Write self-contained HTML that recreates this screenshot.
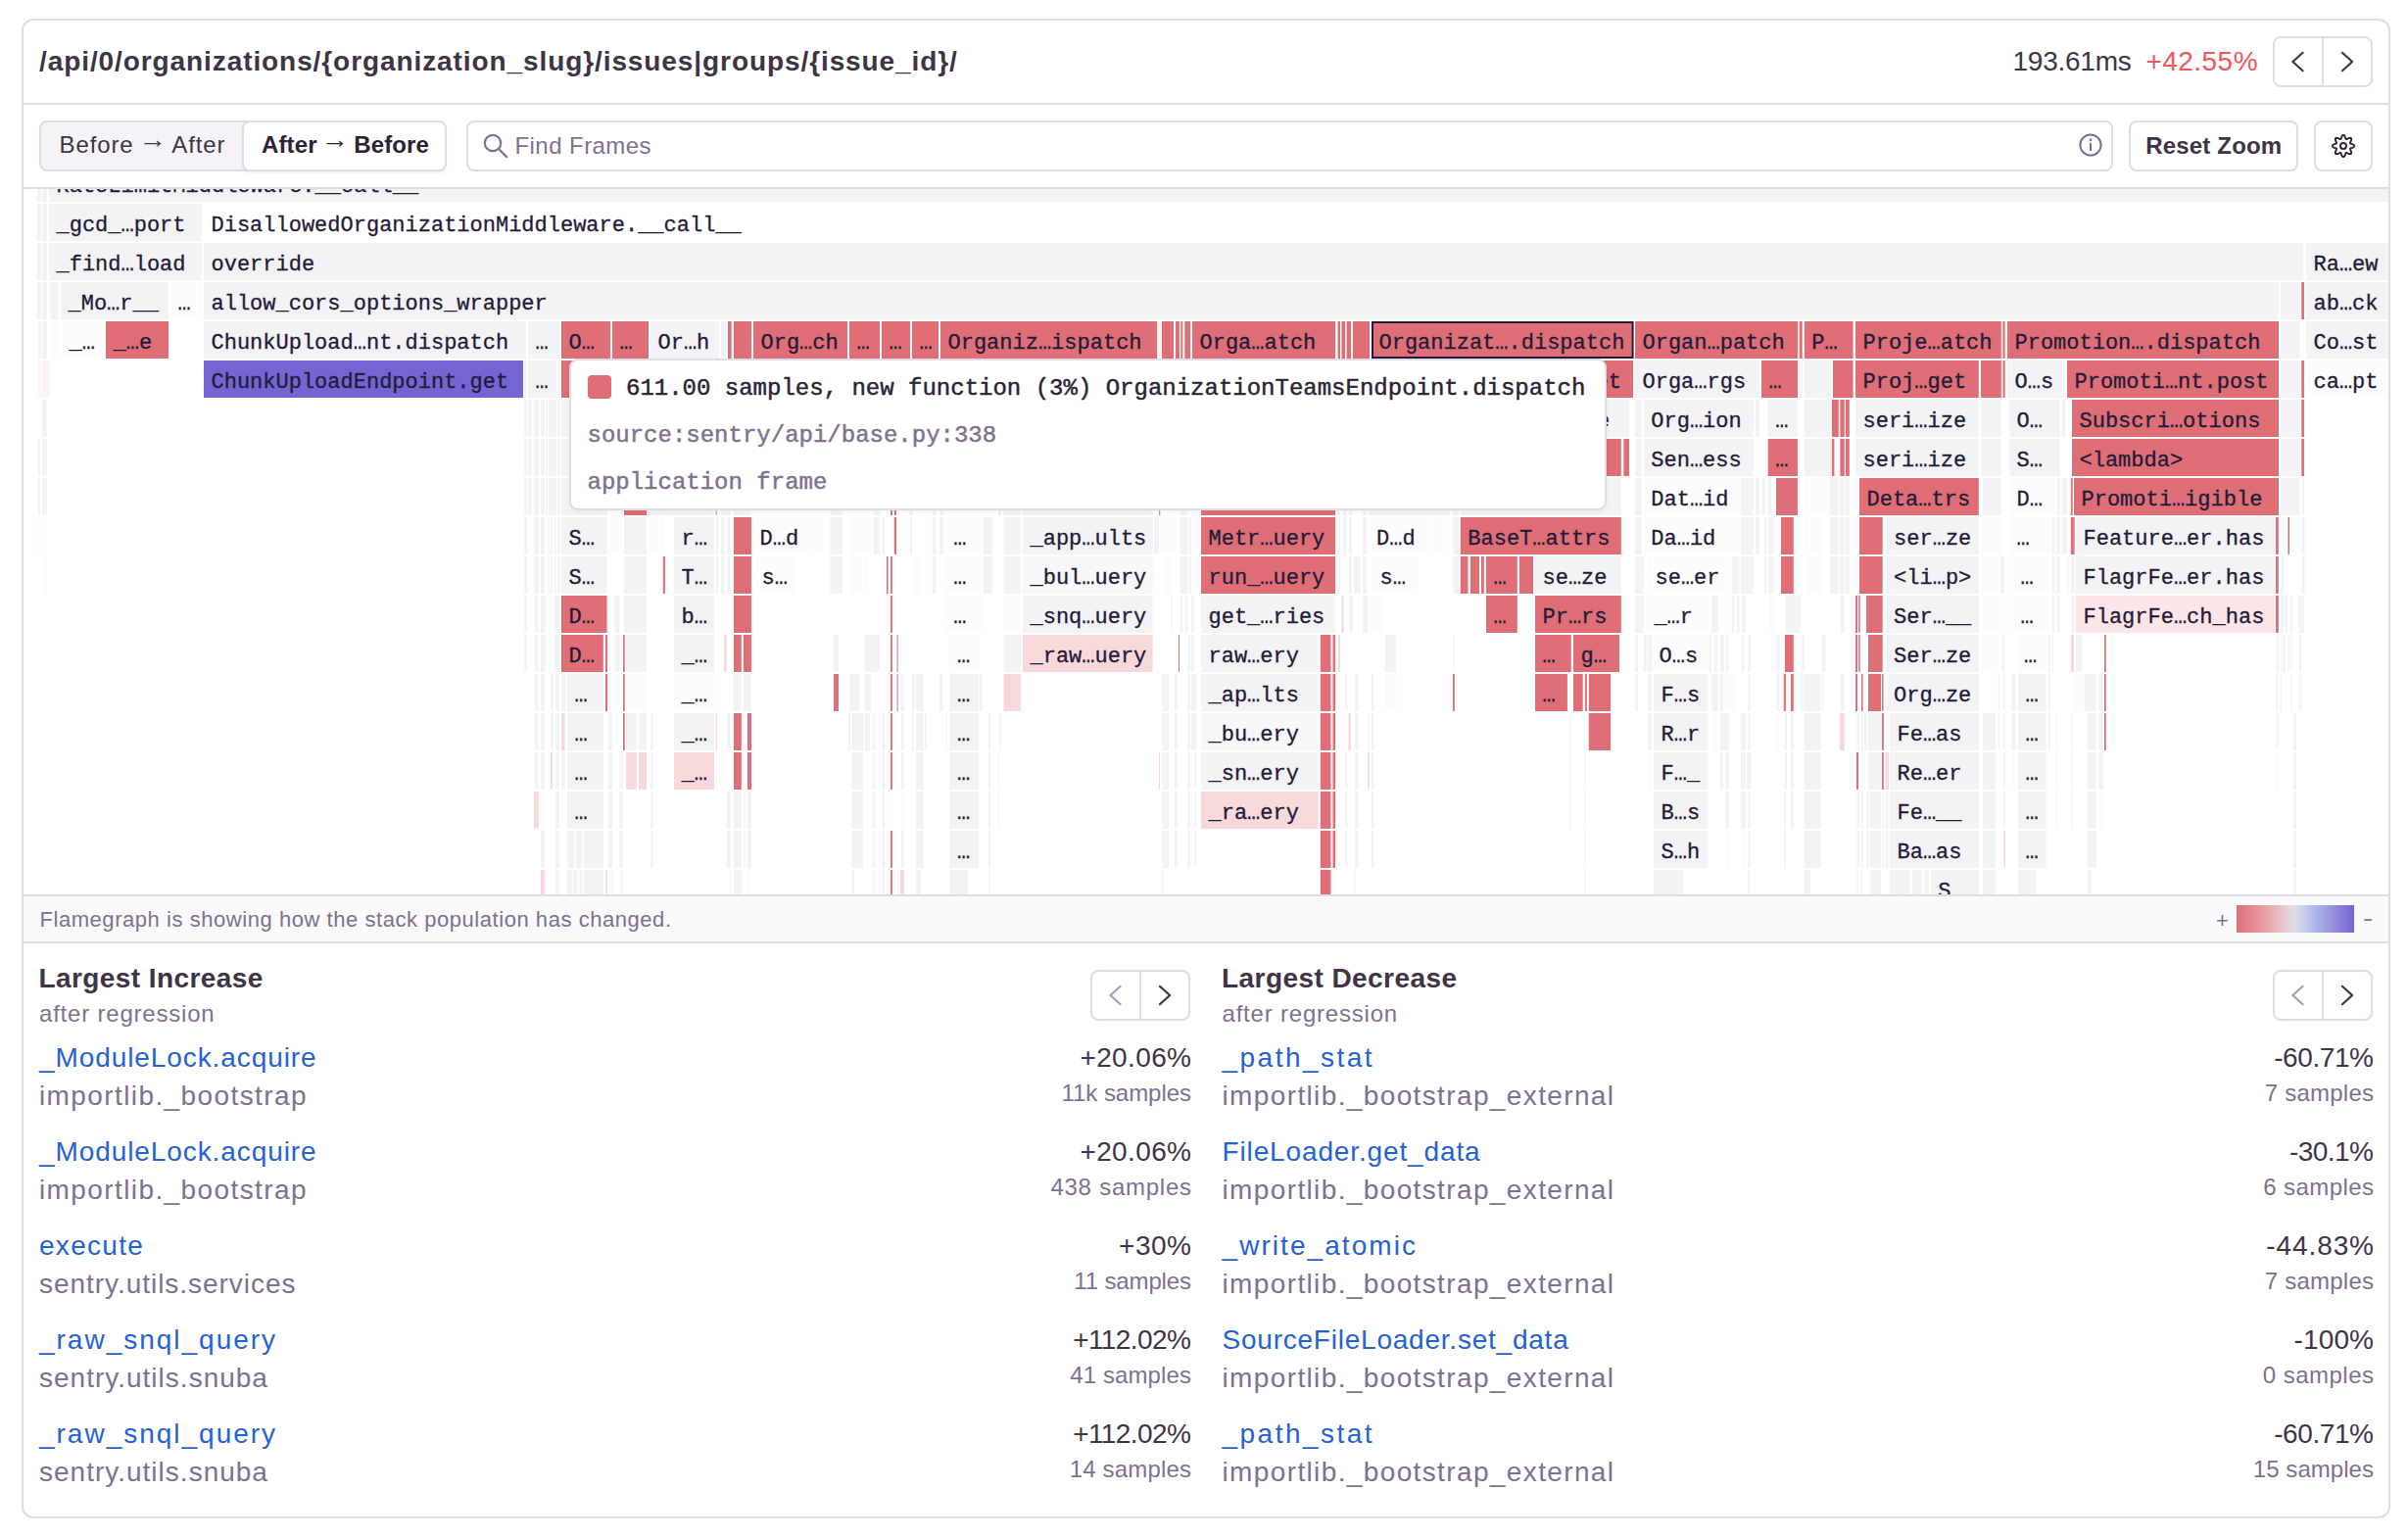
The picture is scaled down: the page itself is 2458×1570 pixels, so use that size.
<!DOCTYPE html>
<html><head><meta charset="utf-8"><title>Function regression flamegraph</title>
<style>
html,body{margin:0;padding:0;background:#fff}
body{width:2458px;height:1570px;position:relative;overflow:hidden;font-family:"Liberation Sans",sans-serif;color:#3e3446}
.card{position:absolute;left:22px;top:19px;width:2414px;height:1527px;border:2px solid #e0dce5;border-radius:12px;background:#fff}
.hl{position:absolute;left:24px;width:2414px;height:2px;background:#e0dce5}
.btn{position:absolute;box-sizing:border-box;border:2px solid #e0dce5;border-radius:8px;background:#fff}
svg{position:absolute}
svg text{font-family:"Liberation Mono",monospace;white-space:pre}
</style></head><body>
<div class="card"></div>

<div style="position:absolute;left:40px;top:49.30px;font:bold 28px/28px 'Liberation Sans', sans-serif;color:#3e3446;white-space:pre;letter-spacing:0.912px;">/api/0/organizations/{organization_slug}/issues|groups/{issue_id}/</div>
<div style="position:absolute;left:2054.5px;top:49.30px;font:28px/28px 'Liberation Sans', sans-serif;color:#3e3446;white-space:pre;letter-spacing:-0.250px;">193.61ms</div>
<div style="position:absolute;left:2190.5px;top:49.30px;font:28px/28px 'Liberation Sans', sans-serif;color:#f55459;white-space:pre;letter-spacing:0.451px;">+42.55%</div>
<div class="btn" style="left:2320px;top:37px;width:102px;height:52px"></div>
<div style="position:absolute;left:2370px;top:39px;width:2px;height:48px;background:#e0dce5"></div>
<svg style="left:2320px;top:37px" width="102" height="52" viewBox="2320 37 102 52"><polyline points="2350.6,53.8 2340.4,63.0 2350.6,72.2" fill="none" stroke="#3e3446" stroke-width="2.2" stroke-linecap="round" stroke-linejoin="round"/><polyline points="2390.9,53.8 2401.1,63.0 2390.9,72.2" fill="none" stroke="#3e3446" stroke-width="2.2" stroke-linecap="round" stroke-linejoin="round"/></svg>
<div class="hl" style="top:105px"></div>
<div class="btn" style="left:40px;top:123px;width:416px;height:52px;background:#f5f3f7"></div>
<div class="btn" style="left:247px;top:123px;width:209px;height:52px;background:#fff;box-shadow:0 2px 2px rgba(43,34,51,.06)"></div>
<div style="position:absolute;left:60.5px;top:135.98px;font:24px/24px 'Liberation Sans', sans-serif;color:#3e3446;white-space:pre;letter-spacing:0.897px;">Before <span style="display:inline-block;transform:translateY(-5px) scale(1.2,1.05)">→</span> After</div>
<div style="position:absolute;left:267px;top:135.98px;font:bold 24px/24px 'Liberation Sans', sans-serif;color:#2b2233;white-space:pre;letter-spacing:0.116px;">After <span style="display:inline-block;transform:translateY(-5px) scale(1.2,1.05)">→</span> Before</div>
<div class="btn" style="left:476px;top:123px;width:1681px;height:52px"></div>
<svg style="left:490px;top:133px" width="32" height="32" viewBox="0 0 32 32"><circle cx="13" cy="13" r="8.2" fill="none" stroke="#80708f" stroke-width="2.2"/><line x1="19" y1="19" x2="27" y2="27" stroke="#80708f" stroke-width="2.4" stroke-linecap="round"/></svg>
<div style="position:absolute;left:525.5px;top:136.68px;font:24px/24px 'Liberation Sans', sans-serif;color:#80708f;white-space:pre;letter-spacing:0.438px;">Find Frames</div>
<svg style="left:2120px;top:134px" width="28" height="28" viewBox="0 0 28 28"><circle cx="14" cy="14" r="10.6" fill="none" stroke="#80708f" stroke-width="2"/><circle cx="14" cy="9" r="1.4" fill="#80708f"/><rect x="13" y="12" width="2" height="8" fill="#80708f"/></svg>
<div class="btn" style="left:2173px;top:123px;width:173px;height:52px"></div>
<div style="position:absolute;left:2190.3px;top:136.68px;font:bold 24px/24px 'Liberation Sans', sans-serif;color:#3e3446;white-space:pre;letter-spacing:0.166px;">Reset Zoom</div>
<div class="btn" style="left:2362px;top:123px;width:60px;height:52px"></div>
<svg style="left:2376px;top:133px" width="32" height="32" viewBox="2376 133 32 32"><polygon points="2392.00,137.85 2392.43,137.95 2392.85,138.23 2393.22,138.66 2393.55,139.22 2393.82,139.83 2394.05,140.45 2394.25,141.02 2394.44,141.49 2394.64,141.83 2394.89,142.02 2395.20,142.06 2395.58,141.97 2396.05,141.77 2396.59,141.50 2397.19,141.23 2397.82,140.99 2398.44,140.83 2399.02,140.78 2399.51,140.88 2399.88,141.12 2400.12,141.49 2400.22,141.98 2400.17,142.56 2400.01,143.18 2399.77,143.81 2399.50,144.41 2399.23,144.95 2399.03,145.42 2398.94,145.80 2398.98,146.11 2399.17,146.36 2399.51,146.56 2399.98,146.75 2400.55,146.95 2401.17,147.18 2401.78,147.45 2402.34,147.78 2402.77,148.15 2403.05,148.57 2403.15,149.00 2403.05,149.43 2402.77,149.85 2402.34,150.22 2401.78,150.55 2401.17,150.82 2400.55,151.05 2399.98,151.25 2399.51,151.44 2399.17,151.64 2398.98,151.89 2398.94,152.20 2399.03,152.58 2399.23,153.05 2399.50,153.59 2399.77,154.19 2400.01,154.82 2400.17,155.44 2400.22,156.02 2400.12,156.51 2399.88,156.88 2399.51,157.12 2399.02,157.22 2398.44,157.17 2397.82,157.01 2397.19,156.77 2396.59,156.50 2396.05,156.23 2395.58,156.03 2395.20,155.94 2394.89,155.98 2394.64,156.17 2394.44,156.51 2394.25,156.98 2394.05,157.55 2393.82,158.17 2393.55,158.78 2393.22,159.34 2392.85,159.77 2392.43,160.05 2392.00,160.15 2391.57,160.05 2391.15,159.77 2390.78,159.34 2390.45,158.78 2390.18,158.17 2389.95,157.55 2389.75,156.98 2389.56,156.51 2389.36,156.17 2389.11,155.98 2388.80,155.94 2388.42,156.03 2387.95,156.23 2387.41,156.50 2386.81,156.77 2386.18,157.01 2385.56,157.17 2384.98,157.22 2384.49,157.12 2384.12,156.88 2383.88,156.51 2383.78,156.02 2383.83,155.44 2383.99,154.82 2384.23,154.19 2384.50,153.59 2384.77,153.05 2384.97,152.58 2385.06,152.20 2385.02,151.89 2384.83,151.64 2384.49,151.44 2384.02,151.25 2383.45,151.05 2382.83,150.82 2382.22,150.55 2381.66,150.22 2381.23,149.85 2380.95,149.43 2380.85,149.00 2380.95,148.57 2381.23,148.15 2381.66,147.78 2382.22,147.45 2382.83,147.18 2383.45,146.95 2384.02,146.75 2384.49,146.56 2384.83,146.36 2385.02,146.11 2385.06,145.80 2384.97,145.42 2384.77,144.95 2384.50,144.41 2384.23,143.81 2383.99,143.18 2383.83,142.56 2383.78,141.98 2383.88,141.49 2384.12,141.12 2384.49,140.88 2384.98,140.78 2385.56,140.83 2386.18,140.99 2386.81,141.23 2387.41,141.50 2387.95,141.77 2388.42,141.97 2388.80,142.06 2389.11,142.02 2389.36,141.83 2389.56,141.49 2389.75,141.02 2389.95,140.45 2390.18,139.83 2390.45,139.22 2390.78,138.66 2391.15,138.23 2391.57,137.95" fill="none" stroke="#2b2233" stroke-width="1.9" stroke-linejoin="round"/><circle cx="2392" cy="149" r="3" fill="none" stroke="#2b2233" stroke-width="1.9"/></svg>
<div class="hl" style="top:191px"></div>
<svg style="left:24px;top:193px" width="2414" height="720" viewBox="24 193 2414 720">
<rect x="38" y="168" width="4" height="38" fill="#f3f2f5"/><rect x="43" y="168" width="5" height="38" fill="#f3f2f5"/><rect x="50" y="168" width="2388" height="38" fill="#f3f2f5"/><rect x="38" y="208" width="4" height="38" fill="#f3f2f5"/><rect x="43" y="208" width="5" height="38" fill="#f3f2f5"/><rect x="50" y="208" width="156" height="38" fill="#f3f2f5"/><rect x="38" y="248" width="4" height="38" fill="#f3f2f5"/><rect x="43" y="248" width="5" height="38" fill="#f3f2f5"/><rect x="50" y="248" width="156" height="38" fill="#f3f2f5"/><rect x="208" y="248" width="2143.3" height="38" fill="#f3f2f5"/><rect x="2354" y="248" width="84" height="38" fill="#f3f2f5"/><rect x="38" y="288" width="4" height="38" fill="#f3f2f5"/><rect x="43" y="288" width="5" height="38" fill="#f3f2f5"/><rect x="51" y="288" width="9" height="38" fill="#f3f2f5"/><rect x="62" y="288" width="110" height="38" fill="#f3f2f5"/><rect x="174" y="288" width="32" height="38" fill="#fdfcfd"/><rect x="208" y="288" width="2118" height="38" fill="#f3f2f5"/><rect x="2328" y="288" width="19.5" height="38" fill="#f3f2f5"/><rect x="2349.3" y="288" width="2.7" height="38" fill="#df6e76"/><rect x="2354" y="288" width="84" height="38" fill="#f3f2f5"/><rect x="39" y="328" width="3" height="38" fill="#f3f2f5"/><rect x="43" y="328" width="5" height="38" fill="#f3f2f5"/><rect x="51" y="328" width="9" height="38" fill="#fdfcfd"/><rect x="63" y="328" width="43" height="38" fill="#fdfcfd"/><rect x="108" y="328" width="64" height="38" fill="#df6e76"/><rect x="208" y="328" width="329" height="38" fill="#f3f2f5"/><rect x="539" y="328" width="32" height="38" fill="#f3f2f5"/><rect x="573" y="328" width="50" height="38" fill="#df6e76"/><rect x="625" y="328" width="37" height="38" fill="#df6e76"/><rect x="664" y="328" width="70" height="38" fill="#f3f2f5"/><rect x="736" y="328" width="5" height="38" fill="#f3f2f5"/><rect x="743" y="328" width="3.6" height="38" fill="#df6e76"/><rect x="749" y="328" width="18" height="38" fill="#df6e76"/><rect x="769" y="328" width="96" height="38" fill="#df6e76"/><rect x="867" y="328" width="31" height="38" fill="#df6e76"/><rect x="900" y="328" width="29" height="38" fill="#df6e76"/><rect x="931" y="328" width="27" height="38" fill="#df6e76"/><rect x="960" y="328" width="221.2" height="38" fill="#df6e76"/><rect x="1182.6" y="328" width="2.4" height="38" fill="#f3f2f5"/><rect x="1186" y="328" width="12" height="38" fill="#df6e76"/><rect x="1200" y="328" width="4" height="38" fill="#df6e76"/><rect x="1205.3" y="328" width="2" height="38" fill="#df6e76"/><rect x="1209.3" y="328" width="5.7" height="38" fill="#df6e76"/><rect x="1217" y="328" width="146" height="38" fill="#df6e76"/><rect x="1365.6" y="328" width="2.4" height="38" fill="#df6e76"/><rect x="1369.5" y="328" width="3.5" height="38" fill="#df6e76"/><rect x="1374.6" y="328" width="4.4" height="38" fill="#df6e76"/><rect x="1381" y="328" width="17" height="38" fill="#df6e76"/><rect x="1401" y="329" width="265.6" height="36" fill="#df6e76" stroke="#1f1b38" stroke-width="2"/><rect x="1669" y="328" width="166" height="38" fill="#df6e76"/><rect x="1836.7" y="328" width="3" height="38" fill="#df6e76"/><rect x="1841.8" y="328" width="49.8" height="38" fill="#df6e76"/><rect x="1894" y="328" width="148.8" height="38" fill="#df6e76"/><rect x="2044.4" y="328" width="2.2" height="38" fill="#df6e76"/><rect x="2049" y="328" width="277" height="38" fill="#df6e76"/><rect x="2328" y="328" width="19.5" height="38" fill="#f3f2f5"/><rect x="2349.3" y="328" width="2.7" height="38" fill="#fdfcfd"/><rect x="2354" y="328" width="84" height="38" fill="#f3f2f5"/><rect x="39" y="368" width="3" height="38" fill="#fdf4f5"/><rect x="43" y="368" width="8" height="38" fill="#fdf4f5"/><rect x="208" y="368" width="326" height="38" fill="#7465d3"/><rect x="535.2" y="368" width="2.3" height="38" fill="#f3f2f5"/><rect x="539" y="368" width="29" height="38" fill="#f3f2f5"/><rect x="569.1" y="368" width="2.3" height="38" fill="#f3f2f5"/><rect x="573" y="368" width="821" height="38" fill="#df6e76"/><rect x="1396.7" y="368" width="270.3" height="38" fill="#df6e76"/><rect x="1669" y="368" width="127" height="38" fill="#f3f2f5"/><rect x="1798" y="368" width="37" height="38" fill="#df6e76"/><rect x="1836.7" y="368" width="3" height="38" fill="#f3f2f5"/><rect x="1841.8" y="368" width="27.2" height="38" fill="#f3f2f5"/><rect x="1871" y="368" width="20.6" height="38" fill="#df6e76"/><rect x="1894" y="368" width="125.8" height="38" fill="#df6e76"/><rect x="2022" y="368" width="20.8" height="38" fill="#df6e76"/><rect x="2044.5" y="368" width="2.1" height="38" fill="#df6e76"/><rect x="2049" y="368" width="58.4" height="38" fill="#f3f2f5"/><rect x="2110" y="368" width="216" height="38" fill="#df6e76"/><rect x="2328" y="368" width="19.5" height="38" fill="#f3f2f5"/><rect x="2349.3" y="368" width="2.7" height="38" fill="#df6e76"/><rect x="2354" y="368" width="84" height="38" fill="#fdfcfd"/><rect x="43" y="408" width="4.7" height="38" fill="#f3f2f5"/><rect x="535.2" y="408" width="2.8" height="38" fill="#f3f2f5"/><rect x="539" y="408" width="3.8" height="38" fill="#f3f2f5"/><rect x="545" y="408" width="5" height="38" fill="#f3f2f5"/><rect x="552" y="408" width="4" height="38" fill="#f3f2f5"/><rect x="557.2" y="408" width="1.8" height="38" fill="#f3f2f5"/><rect x="560" y="408" width="7.8" height="38" fill="#f3f2f5"/><rect x="569.2" y="408" width="2.6" height="38" fill="#f3f2f5"/><rect x="573.1" y="408" width="8.4" height="38" fill="#f3f2f5"/><rect x="1398" y="408" width="265" height="38" fill="#f3f2f5"/><rect x="1669" y="408" width="6.8" height="38" fill="#f3f2f5"/><rect x="1677.8" y="408" width="112.2" height="38" fill="#f3f2f5"/><rect x="1792" y="408" width="3.8" height="38" fill="#f3f2f5"/><rect x="1804.7" y="408" width="30.2" height="38" fill="#f3f2f5"/><rect x="1841.8" y="408" width="26.2" height="38" fill="#f3f2f5"/><rect x="1869.9" y="408" width="6.9" height="38" fill="#df6e76"/><rect x="1878.3" y="408" width="4.4" height="38" fill="#df6e76"/><rect x="1884" y="408" width="3.8" height="38" fill="#df6e76"/><rect x="1894" y="408" width="125.8" height="38" fill="#f3f2f5"/><rect x="2022" y="408" width="20.8" height="38" fill="#f3f2f5"/><rect x="2051" y="408" width="51.8" height="38" fill="#f3f2f5"/><rect x="2104.8" y="408" width="3.2" height="38" fill="#f3f2f5"/><rect x="2115" y="408" width="211" height="38" fill="#df6e76"/><rect x="2328" y="408" width="19.5" height="38" fill="#f3f2f5"/><rect x="2349.3" y="408" width="2.7" height="38" fill="#df6e76"/><rect x="38.6" y="448" width="2.4" height="38" fill="#f3f2f5"/><rect x="43" y="448" width="4.7" height="38" fill="#f3f2f5"/><rect x="535.2" y="448" width="2.8" height="38" fill="#f3f2f5"/><rect x="539" y="448" width="3.8" height="38" fill="#f3f2f5"/><rect x="545" y="448" width="5" height="38" fill="#f3f2f5"/><rect x="552" y="448" width="4" height="38" fill="#f3f2f5"/><rect x="557.2" y="448" width="1.8" height="38" fill="#f3f2f5"/><rect x="560" y="448" width="7.8" height="38" fill="#f3f2f5"/><rect x="569.2" y="448" width="2.6" height="38" fill="#f3f2f5"/><rect x="573.1" y="448" width="8.4" height="38" fill="#f3f2f5"/><rect x="1402" y="448" width="252.8" height="38" fill="#df6e76"/><rect x="1657.4" y="448" width="5.6" height="38" fill="#df6e76"/><rect x="1669" y="448" width="6.8" height="38" fill="#f3f2f5"/><rect x="1677.8" y="448" width="112.2" height="38" fill="#f3f2f5"/><rect x="1804.7" y="448" width="30.2" height="38" fill="#df6e76"/><rect x="1841.8" y="448" width="27.2" height="38" fill="#f3f2f5"/><rect x="1869.9" y="448" width="2.5" height="38" fill="#df6e76"/><rect x="1878.3" y="448" width="4.4" height="38" fill="#df6e76"/><rect x="1884" y="448" width="3.8" height="38" fill="#df6e76"/><rect x="1894" y="448" width="125.8" height="38" fill="#f3f2f5"/><rect x="2022" y="448" width="20.8" height="38" fill="#f3f2f5"/><rect x="2051" y="448" width="51.8" height="38" fill="#f3f2f5"/><rect x="2115" y="448" width="211" height="38" fill="#df6e76"/><rect x="2328" y="448" width="19.5" height="38" fill="#f3f2f5"/><rect x="2349.3" y="448" width="2.7" height="38" fill="#df6e76"/><rect x="38.6" y="488" width="2.4" height="38" fill="#f3f2f5"/><rect x="43" y="488" width="4.7" height="38" fill="#f3f2f5"/><rect x="535.2" y="488" width="2.8" height="38" fill="#f3f2f5"/><rect x="539" y="488" width="3.8" height="38" fill="#f3f2f5"/><rect x="545" y="488" width="5" height="38" fill="#f3f2f5"/><rect x="552" y="488" width="4" height="38" fill="#f3f2f5"/><rect x="557.2" y="488" width="1.8" height="38" fill="#f3f2f5"/><rect x="560" y="488" width="7.8" height="38" fill="#f3f2f5"/><rect x="569.2" y="488" width="2.6" height="38" fill="#f3f2f5"/><rect x="573.1" y="488" width="8.4" height="38" fill="#f3f2f5"/><rect x="581" y="488" width="39" height="38" fill="#f3f2f5"/><rect x="634" y="488" width="2" height="38" fill="#f3f2f5"/><rect x="637" y="488" width="23" height="38" fill="#df6e76"/><rect x="661.5" y="488" width="1.5" height="38" fill="#f7d9dc"/><rect x="664" y="488" width="65" height="38" fill="#f3f2f5"/><rect x="730.7" y="488" width="0.9" height="38" fill="#df6e76"/><rect x="735.8" y="488" width="10.2" height="38" fill="#f3f2f5"/><rect x="749" y="488" width="18" height="38" fill="#f3f2f5"/><rect x="847.5" y="488" width="12.2" height="38" fill="#f3f2f5"/><rect x="891.6" y="488" width="6.4" height="38" fill="#f3f2f5"/><rect x="909" y="488" width="1.8" height="38" fill="#df6e76"/><rect x="913" y="488" width="2" height="38" fill="#df6e76"/><rect x="928.7" y="488" width="2.5" height="38" fill="#f3f2f5"/><rect x="951.7" y="488" width="3.8" height="38" fill="#f3f2f5"/><rect x="959.3" y="488" width="3.9" height="38" fill="#f3f2f5"/><rect x="1019.8" y="488" width="1.4" height="38" fill="#f7d9dc"/><rect x="1024.5" y="488" width="17.3" height="38" fill="#f3f2f5"/><rect x="1044" y="488" width="132.6" height="38" fill="#f3f2f5"/><rect x="1183.2" y="488" width="1" height="38" fill="#df6e76"/><rect x="1204.7" y="488" width="7.7" height="38" fill="#f3f2f5"/><rect x="1226" y="488" width="137" height="38" fill="#df6e76"/><rect x="1365.6" y="488" width="2.4" height="38" fill="#f3f2f5"/><rect x="1370.8" y="488" width="3.8" height="38" fill="#f3f2f5"/><rect x="1377" y="488" width="2.7" height="38" fill="#f3f2f5"/><rect x="1391" y="488" width="4" height="38" fill="#f3f2f5"/><rect x="1397.6" y="488" width="82.4" height="38" fill="#f3f2f5"/><rect x="1483" y="488" width="5.8" height="38" fill="#f3f2f5"/><rect x="1490.8" y="488" width="164" height="38" fill="#f3f2f5"/><rect x="1669" y="488" width="6.8" height="38" fill="#f3f2f5"/><rect x="1677.8" y="488" width="99.2" height="38" fill="#fdfcfd"/><rect x="1777" y="488" width="13" height="38" fill="#f3f2f5"/><rect x="1792" y="488" width="4" height="38" fill="#f3f2f5"/><rect x="1798.4" y="488" width="3.6" height="38" fill="#f3f2f5"/><rect x="1804.7" y="488" width="3.9" height="38" fill="#f3f2f5"/><rect x="1813" y="488" width="21.9" height="38" fill="#df6e76"/><rect x="1841.8" y="488" width="26.2" height="38" fill="#fdfcfd"/><rect x="1868" y="488" width="8.8" height="38" fill="#f3f2f5"/><rect x="1878.3" y="488" width="4.4" height="38" fill="#f3f2f5"/><rect x="1884" y="488" width="3.8" height="38" fill="#f3f2f5"/><rect x="1898" y="488" width="121.8" height="38" fill="#df6e76"/><rect x="2024" y="488" width="18.8" height="38" fill="#f3f2f5"/><rect x="2051" y="488" width="47.5" height="38" fill="#fdfcfd"/><rect x="2099.8" y="488" width="3" height="38" fill="#f3f2f5"/><rect x="2104.9" y="488" width="5.1" height="38" fill="#f3f2f5"/><rect x="2113.8" y="488" width="1.8" height="38" fill="#df6e76"/><rect x="2117" y="488" width="209" height="38" fill="#df6e76"/><rect x="2328" y="488" width="19.5" height="38" fill="#f3f2f5"/><rect x="2350" y="488" width="2" height="38" fill="#f3f2f5"/><rect x="38.6" y="528" width="2.4" height="38" fill="#fdfcfd"/><rect x="43" y="528" width="4.7" height="38" fill="#fdfcfd"/><rect x="535.2" y="528" width="2.8" height="38" fill="#f3f2f5"/><rect x="545" y="528" width="5" height="38" fill="#f3f2f5"/><rect x="552" y="528" width="4" height="38" fill="#f3f2f5"/><rect x="559.3" y="528" width="1.5" height="38" fill="#f3f2f5"/><rect x="561.9" y="528" width="1.5" height="38" fill="#f3f2f5"/><rect x="566" y="528" width="1.8" height="38" fill="#f3f2f5"/><rect x="569.2" y="528" width="2.6" height="38" fill="#f3f2f5"/><rect x="573" y="528" width="46.6" height="38" fill="#f3f2f5"/><rect x="621" y="528" width="14" height="38" fill="#fdfcfd"/><rect x="637" y="528" width="23" height="38" fill="#f3f2f5"/><rect x="662" y="528" width="16" height="38" fill="#fdfcfd"/><rect x="688" y="528" width="41" height="38" fill="#f3f2f5"/><rect x="730.7" y="528" width="2.6" height="38" fill="#f3f2f5"/><rect x="735.8" y="528" width="3.9" height="38" fill="#f3f2f5"/><rect x="742" y="528" width="4" height="38" fill="#f3f2f5"/><rect x="749" y="528" width="18" height="38" fill="#df6e76"/><rect x="768" y="528" width="57" height="38" fill="#fdfcfd"/><rect x="826.5" y="528" width="12.5" height="38" fill="#fdfcfd"/><rect x="847.5" y="528" width="12.2" height="38" fill="#f3f2f5"/><rect x="867" y="528" width="23" height="38" fill="#fdfcfd"/><rect x="891.6" y="528" width="6.4" height="38" fill="#f3f2f5"/><rect x="900.6" y="528" width="2.4" height="38" fill="#f3f2f5"/><rect x="912.8" y="528" width="2.2" height="38" fill="#df6e76"/><rect x="928.7" y="528" width="2.5" height="38" fill="#f3f2f5"/><rect x="951.7" y="528" width="3.8" height="38" fill="#f3f2f5"/><rect x="959.3" y="528" width="3.9" height="38" fill="#f3f2f5"/><rect x="965.7" y="528" width="35.8" height="38" fill="#fdfcfd"/><rect x="1003.5" y="528" width="9.5" height="38" fill="#f3f2f5"/><rect x="1024.5" y="528" width="17.3" height="38" fill="#f3f2f5"/><rect x="1044" y="528" width="132.6" height="38" fill="#f3f2f5"/><rect x="1178" y="528" width="5" height="38" fill="#f3f2f5"/><rect x="1184" y="528" width="18" height="38" fill="#fdfcfd"/><rect x="1204.7" y="528" width="7.7" height="38" fill="#f3f2f5"/><rect x="1213.7" y="528" width="2.5" height="38" fill="#f3f2f5"/><rect x="1226" y="528" width="137" height="38" fill="#df6e76"/><rect x="1365.6" y="528" width="2.4" height="38" fill="#f3f2f5"/><rect x="1370.8" y="528" width="3.8" height="38" fill="#f3f2f5"/><rect x="1377" y="528" width="2.7" height="38" fill="#f3f2f5"/><rect x="1391" y="528" width="4" height="38" fill="#f3f2f5"/><rect x="1397.6" y="528" width="62.4" height="38" fill="#fdfcfd"/><rect x="1462.7" y="528" width="10.3" height="38" fill="#fdfcfd"/><rect x="1483" y="528" width="5.8" height="38" fill="#f3f2f5"/><rect x="1490.8" y="528" width="164" height="38" fill="#df6e76"/><rect x="1669" y="528" width="6.8" height="38" fill="#f3f2f5"/><rect x="1677.8" y="528" width="89.2" height="38" fill="#fdfcfd"/><rect x="1767.7" y="528" width="7.7" height="38" fill="#fdfcfd"/><rect x="1777" y="528" width="13" height="38" fill="#f3f2f5"/><rect x="1792" y="528" width="3.8" height="38" fill="#f3f2f5"/><rect x="1800.9" y="528" width="2.6" height="38" fill="#f3f2f5"/><rect x="1805.5" y="528" width="5.1" height="38" fill="#f3f2f5"/><rect x="1818" y="528" width="12.8" height="38" fill="#df6e76"/><rect x="1841.8" y="528" width="17.9" height="38" fill="#fdfcfd"/><rect x="1868" y="528" width="8.8" height="38" fill="#f3f2f5"/><rect x="1878.3" y="528" width="4.4" height="38" fill="#f3f2f5"/><rect x="1884" y="528" width="3.8" height="38" fill="#f3f2f5"/><rect x="1898" y="528" width="23.7" height="38" fill="#df6e76"/><rect x="1925.6" y="528" width="94.2" height="38" fill="#f3f2f5"/><rect x="2022" y="528" width="20.8" height="38" fill="#fdfcfd"/><rect x="2051" y="528" width="42" height="38" fill="#fdfcfd"/><rect x="2094.7" y="528" width="2.5" height="38" fill="#f3f2f5"/><rect x="2099.2" y="528" width="3.6" height="38" fill="#f3f2f5"/><rect x="2104.9" y="528" width="5.1" height="38" fill="#f3f2f5"/><rect x="2113.8" y="528" width="3.8" height="38" fill="#df6e76"/><rect x="2119" y="528" width="203" height="38" fill="#f3f2f5"/><rect x="2323" y="528" width="2.8" height="38" fill="#df6e76"/><rect x="2335.5" y="528" width="1.5" height="38" fill="#df6e76"/><rect x="2350" y="528" width="2.5" height="38" fill="#f3f2f5"/><rect x="43" y="568" width="4.7" height="38" fill="#fdfcfd"/><rect x="535.2" y="568" width="2.8" height="38" fill="#f3f2f5"/><rect x="545" y="568" width="5" height="38" fill="#f3f2f5"/><rect x="552" y="568" width="4" height="38" fill="#f3f2f5"/><rect x="559.3" y="568" width="1.5" height="38" fill="#f3f2f5"/><rect x="561.9" y="568" width="1.5" height="38" fill="#f3f2f5"/><rect x="566" y="568" width="1.8" height="38" fill="#f3f2f5"/><rect x="569.2" y="568" width="2.6" height="38" fill="#f3f2f5"/><rect x="573" y="568" width="46.6" height="38" fill="#f3f2f5"/><rect x="637" y="568" width="23" height="38" fill="#f3f2f5"/><rect x="676.8" y="568" width="2.1" height="38" fill="#df6e76"/><rect x="688" y="568" width="41" height="38" fill="#f3f2f5"/><rect x="730.7" y="568" width="2.6" height="38" fill="#f3f2f5"/><rect x="735.8" y="568" width="3.9" height="38" fill="#f3f2f5"/><rect x="742" y="568" width="4" height="38" fill="#f3f2f5"/><rect x="749" y="568" width="18" height="38" fill="#df6e76"/><rect x="770" y="568" width="43.7" height="38" fill="#fdfcfd"/><rect x="847.5" y="568" width="12.2" height="38" fill="#f3f2f5"/><rect x="867" y="568" width="19" height="38" fill="#fdfcfd"/><rect x="905" y="568" width="1.5" height="38" fill="#df6e76"/><rect x="909" y="568" width="1.8" height="38" fill="#df6e76"/><rect x="931" y="568" width="10.5" height="38" fill="#fdfcfd"/><rect x="951.7" y="568" width="3.8" height="38" fill="#f3f2f5"/><rect x="965.7" y="568" width="35.8" height="38" fill="#fdfcfd"/><rect x="1003.5" y="568" width="9.5" height="38" fill="#f3f2f5"/><rect x="1024.5" y="568" width="17.3" height="38" fill="#f3f2f5"/><rect x="1044" y="568" width="132.6" height="38" fill="#f8f7f9"/><rect x="1186.8" y="568" width="7.7" height="38" fill="#fdfcfd"/><rect x="1204.7" y="568" width="7.7" height="38" fill="#f3f2f5"/><rect x="1213.7" y="568" width="2.5" height="38" fill="#f3f2f5"/><rect x="1226" y="568" width="137" height="38" fill="#df6e76"/><rect x="1365.6" y="568" width="2.4" height="38" fill="#f3f2f5"/><rect x="1377" y="568" width="2.7" height="38" fill="#f3f2f5"/><rect x="1382" y="568" width="6.6" height="38" fill="#f3f2f5"/><rect x="1391" y="568" width="4" height="38" fill="#f3f2f5"/><rect x="1401" y="568" width="45.6" height="38" fill="#fdfcfd"/><rect x="1483" y="568" width="5.8" height="38" fill="#f3f2f5"/><rect x="1490.8" y="568" width="7.7" height="38" fill="#df6e76"/><rect x="1501" y="568" width="9" height="38" fill="#df6e76"/><rect x="1512" y="568" width="2.8" height="38" fill="#df6e76"/><rect x="1517" y="568" width="31.8" height="38" fill="#df6e76"/><rect x="1551" y="568" width="14" height="38" fill="#df6e76"/><rect x="1567" y="568" width="87.8" height="38" fill="#f3f2f5"/><rect x="1669" y="568" width="9" height="38" fill="#f3f2f5"/><rect x="1682" y="568" width="82" height="38" fill="#fdfcfd"/><rect x="1767.7" y="568" width="7.7" height="38" fill="#f3f2f5"/><rect x="1777" y="568" width="13" height="38" fill="#f3f2f5"/><rect x="1800.9" y="568" width="2.6" height="38" fill="#f3f2f5"/><rect x="1805.5" y="568" width="5.1" height="38" fill="#f3f2f5"/><rect x="1818" y="568" width="12.8" height="38" fill="#df6e76"/><rect x="1843" y="568" width="16.7" height="38" fill="#fdfcfd"/><rect x="1868" y="568" width="8.8" height="38" fill="#f3f2f5"/><rect x="1878.3" y="568" width="4.4" height="38" fill="#f3f2f5"/><rect x="1884" y="568" width="3.8" height="38" fill="#f3f2f5"/><rect x="1898" y="568" width="23.7" height="38" fill="#df6e76"/><rect x="1925.6" y="568" width="94.2" height="38" fill="#f3f2f5"/><rect x="2022" y="568" width="19" height="38" fill="#fdfcfd"/><rect x="2042.3" y="568" width="3.7" height="38" fill="#f3f2f5"/><rect x="2055" y="568" width="35.8" height="38" fill="#fdfcfd"/><rect x="2094.7" y="568" width="2.5" height="38" fill="#f3f2f5"/><rect x="2099.2" y="568" width="3.6" height="38" fill="#f3f2f5"/><rect x="2110" y="568" width="1.3" height="38" fill="#f3f2f5"/><rect x="2113.8" y="568" width="3.8" height="38" fill="#f3f2f5"/><rect x="2119" y="568" width="203" height="38" fill="#f3f2f5"/><rect x="2323" y="568" width="2.8" height="38" fill="#df6e76"/><rect x="2328.3" y="568" width="2.7" height="38" fill="#f3f2f5"/><rect x="2350" y="568" width="2.5" height="38" fill="#f3f2f5"/><rect x="535.3" y="608" width="2.6" height="38" fill="#f3f2f5"/><rect x="545.5" y="608" width="3.9" height="38" fill="#f3f2f5"/><rect x="552" y="608" width="5" height="38" fill="#f3f2f5"/><rect x="566" y="608" width="5" height="38" fill="#f3f2f5"/><rect x="573" y="608" width="46.6" height="38" fill="#df6e76"/><rect x="627.3" y="608" width="5.1" height="38" fill="#f3f2f5"/><rect x="637" y="608" width="23" height="38" fill="#f3f2f5"/><rect x="688" y="608" width="41" height="38" fill="#f3f2f5"/><rect x="749" y="608" width="18" height="38" fill="#df6e76"/><rect x="768" y="608" width="5" height="38" fill="#fdfcfd"/><rect x="909" y="608" width="1.8" height="38" fill="#df6e76"/><rect x="965.7" y="608" width="35.8" height="38" fill="#fdfcfd"/><rect x="1024.5" y="608" width="17.3" height="38" fill="#fdfcfd"/><rect x="1044" y="608" width="132.6" height="38" fill="#f3f2f5"/><rect x="1195.8" y="608" width="1.2" height="38" fill="#f3f2f5"/><rect x="1204.7" y="608" width="2.6" height="38" fill="#f3f2f5"/><rect x="1209.8" y="608" width="2.6" height="38" fill="#f3f2f5"/><rect x="1216.2" y="608" width="2.6" height="38" fill="#f3f2f5"/><rect x="1226" y="608" width="137" height="38" fill="#f3f2f5"/><rect x="1369.5" y="608" width="2.3" height="38" fill="#f7d9dc"/><rect x="1377" y="608" width="4" height="38" fill="#f3f2f5"/><rect x="1391" y="608" width="5" height="38" fill="#f3f2f5"/><rect x="1397.6" y="608" width="14" height="38" fill="#fdfcfd"/><rect x="1517" y="608" width="31.8" height="38" fill="#df6e76"/><rect x="1567" y="608" width="87.8" height="38" fill="#df6e76"/><rect x="1669" y="608" width="9" height="38" fill="#f3f2f5"/><rect x="1680.9" y="608" width="63.8" height="38" fill="#fdfcfd"/><rect x="1747.3" y="608" width="6.4" height="38" fill="#f3f2f5"/><rect x="1767.7" y="608" width="2.3" height="38" fill="#f3f2f5"/><rect x="1772.8" y="608" width="2.6" height="38" fill="#f3f2f5"/><rect x="1778" y="608" width="3.8" height="38" fill="#f3f2f5"/><rect x="1806" y="608" width="7.7" height="38" fill="#fdfcfd"/><rect x="1822.6" y="608" width="15.4" height="38" fill="#f3f2f5"/><rect x="1878.8" y="608" width="3.9" height="38" fill="#f3f2f5"/><rect x="1894" y="608" width="2" height="38" fill="#df6e76"/><rect x="1897.2" y="608" width="1.5" height="38" fill="#df6e76"/><rect x="1905" y="608" width="16.7" height="38" fill="#df6e76"/><rect x="1925.6" y="608" width="94.2" height="38" fill="#f3f2f5"/><rect x="2024.4" y="608" width="16.6" height="38" fill="#fdfcfd"/><rect x="2055" y="608" width="35.8" height="38" fill="#fdfcfd"/><rect x="2094.7" y="608" width="2.5" height="38" fill="#f3f2f5"/><rect x="2099.8" y="608" width="2.5" height="38" fill="#f3f2f5"/><rect x="2114.6" y="608" width="3" height="38" fill="#f3f2f5"/><rect x="2119" y="608" width="203" height="38" fill="#fbe5e7"/><rect x="2323" y="608" width="2.8" height="38" fill="#df6e76"/><rect x="2328" y="608" width="3" height="38" fill="#f3f2f5"/><rect x="2333" y="608" width="2" height="38" fill="#f3f2f5"/><rect x="2338" y="608" width="2" height="38" fill="#f3f2f5"/><rect x="2346" y="608" width="6" height="38" fill="#f3f2f5"/><rect x="535.3" y="648" width="2.6" height="38" fill="#f3f2f5"/><rect x="545.5" y="648" width="3.9" height="38" fill="#f3f2f5"/><rect x="552" y="648" width="5" height="38" fill="#f3f2f5"/><rect x="566" y="648" width="5" height="38" fill="#f3f2f5"/><rect x="573" y="648" width="42.8" height="38" fill="#df6e76"/><rect x="618" y="648" width="2" height="38" fill="#df6e76"/><rect x="627.3" y="648" width="5.1" height="38" fill="#f3f2f5"/><rect x="636" y="648" width="1.7" height="38" fill="#df6e76"/><rect x="638.8" y="648" width="21.2" height="38" fill="#f3f2f5"/><rect x="688" y="648" width="41" height="38" fill="#f3f2f5"/><rect x="739" y="648" width="2.7" height="38" fill="#f7d9dc"/><rect x="749" y="648" width="7.8" height="38" fill="#df6e76"/><rect x="759" y="648" width="8" height="38" fill="#df6e76"/><rect x="850.8" y="648" width="5.2" height="38" fill="#f3f2f5"/><rect x="882.7" y="648" width="15.3" height="38" fill="#f3f2f5"/><rect x="909" y="648" width="1.8" height="38" fill="#df6e76"/><rect x="915.6" y="648" width="1" height="38" fill="#df6e76"/><rect x="969.5" y="648" width="29.5" height="38" fill="#fdfcfd"/><rect x="1024.5" y="648" width="17.3" height="38" fill="#f3f2f5"/><rect x="1044" y="648" width="132.6" height="38" fill="#f7d9dc"/><rect x="1203" y="648" width="1" height="38" fill="#df6e76"/><rect x="1212.4" y="648" width="2.6" height="38" fill="#f3f2f5"/><rect x="1216.2" y="648" width="2.6" height="38" fill="#f3f2f5"/><rect x="1226" y="648" width="119.7" height="38" fill="#f3f2f5"/><rect x="1347.8" y="648" width="10.7" height="38" fill="#df6e76"/><rect x="1360.5" y="648" width="2.5" height="38" fill="#df6e76"/><rect x="1366" y="648" width="2" height="38" fill="#f7d9dc"/><rect x="1414" y="648" width="11" height="38" fill="#f3f2f5"/><rect x="1483" y="648" width="1.4" height="38" fill="#f3f2f5"/><rect x="1567" y="648" width="36.7" height="38" fill="#df6e76"/><rect x="1606" y="648" width="47" height="38" fill="#df6e76"/><rect x="1669" y="648" width="3" height="38" fill="#f3f2f5"/><rect x="1678" y="648" width="2.9" height="38" fill="#f3f2f5"/><rect x="1682" y="648" width="4" height="38" fill="#f3f2f5"/><rect x="1686" y="648" width="57.4" height="38" fill="#fdfcfd"/><rect x="1744.7" y="648" width="2.3" height="38" fill="#f3f2f5"/><rect x="1750" y="648" width="3" height="38" fill="#f3f2f5"/><rect x="1756" y="648" width="4" height="38" fill="#f3f2f5"/><rect x="1762" y="648" width="3" height="38" fill="#f3f2f5"/><rect x="1778" y="648" width="2.5" height="38" fill="#f3f2f5"/><rect x="1784.3" y="648" width="2.7" height="38" fill="#f3f2f5"/><rect x="1813.7" y="648" width="2.5" height="38" fill="#f3f2f5"/><rect x="1822" y="648" width="8.8" height="38" fill="#df6e76"/><rect x="1839" y="648" width="2.8" height="38" fill="#f3f2f5"/><rect x="1859.7" y="648" width="3.8" height="38" fill="#f3f2f5"/><rect x="1894" y="648" width="2" height="38" fill="#df6e76"/><rect x="1897.2" y="648" width="1.5" height="38" fill="#df6e76"/><rect x="1907" y="648" width="14.7" height="38" fill="#df6e76"/><rect x="1925.6" y="648" width="94.2" height="38" fill="#f3f2f5"/><rect x="2022" y="648" width="16.5" height="38" fill="#fdfcfd"/><rect x="2043.6" y="648" width="2.4" height="38" fill="#f3f2f5"/><rect x="2058.6" y="648" width="30" height="38" fill="#fdfcfd"/><rect x="2090.8" y="648" width="2.2" height="38" fill="#f3f2f5"/><rect x="2095" y="648" width="1" height="38" fill="#f3f2f5"/><rect x="2114" y="648" width="3" height="38" fill="#f7d9dc"/><rect x="2119" y="648" width="6.7" height="38" fill="#f3f2f5"/><rect x="2148" y="648" width="1.7" height="38" fill="#df6e76"/><rect x="2323.5" y="648" width="2.1" height="38" fill="#f3f2f5"/><rect x="2327.8" y="648" width="1.1" height="38" fill="#f3f2f5"/><rect x="2330" y="648" width="2.7" height="38" fill="#f3f2f5"/><rect x="2335.3" y="648" width="1.7" height="38" fill="#f3f2f5"/><rect x="2338.5" y="648" width="1.1" height="38" fill="#f3f2f5"/><rect x="2346.7" y="648" width="2.3" height="38" fill="#f3f2f5"/><rect x="545.5" y="688" width="3.9" height="38" fill="#f3f2f5"/><rect x="552" y="688" width="3.8" height="38" fill="#f3f2f5"/><rect x="562" y="688" width="2.7" height="38" fill="#f3f2f5"/><rect x="567" y="688" width="4" height="38" fill="#f3f2f5"/><rect x="573" y="688" width="4.5" height="38" fill="#f3f2f5"/><rect x="579" y="688" width="36.8" height="38" fill="#f3f2f5"/><rect x="618" y="688" width="2" height="38" fill="#df6e76"/><rect x="636" y="688" width="1.7" height="38" fill="#df6e76"/><rect x="639" y="688" width="21" height="38" fill="#fdfcfd"/><rect x="688" y="688" width="41" height="38" fill="#fdfcfd"/><rect x="748.6" y="688" width="7.7" height="38" fill="#f3f2f5"/><rect x="758.8" y="688" width="7.7" height="38" fill="#f3f2f5"/><rect x="851" y="688" width="5" height="38" fill="#df6e76"/><rect x="867.4" y="688" width="10.2" height="38" fill="#f3f2f5"/><rect x="882.7" y="688" width="6.3" height="38" fill="#f3f2f5"/><rect x="909" y="688" width="1.8" height="38" fill="#df6e76"/><rect x="915.6" y="688" width="1" height="38" fill="#df6e76"/><rect x="919.7" y="688" width="3.3" height="38" fill="#f3f2f5"/><rect x="931" y="688" width="3" height="38" fill="#f3f2f5"/><rect x="935" y="688" width="7.7" height="38" fill="#f3f2f5"/><rect x="959" y="688" width="3" height="38" fill="#f3f2f5"/><rect x="969.5" y="688" width="29.5" height="38" fill="#f3f2f5"/><rect x="1000" y="688" width="2.6" height="38" fill="#f3f2f5"/><rect x="1024.5" y="688" width="17.3" height="38" fill="#f7d9dc"/><rect x="1186" y="688" width="7" height="38" fill="#f3f2f5"/><rect x="1199" y="688" width="2.7" height="38" fill="#f3f2f5"/><rect x="1212.4" y="688" width="2.6" height="38" fill="#f3f2f5"/><rect x="1216.2" y="688" width="5.1" height="38" fill="#f3f2f5"/><rect x="1226" y="688" width="119.7" height="38" fill="#f3f2f5"/><rect x="1347.8" y="688" width="10.7" height="38" fill="#df6e76"/><rect x="1360.5" y="688" width="2.5" height="38" fill="#df6e76"/><rect x="1373.3" y="688" width="2.1" height="38" fill="#f3f2f5"/><rect x="1383" y="688" width="3.6" height="38" fill="#f3f2f5"/><rect x="1400" y="688" width="2" height="38" fill="#f3f2f5"/><rect x="1414" y="688" width="11" height="38" fill="#fdfcfd"/><rect x="1483" y="688" width="1.8" height="38" fill="#df6e76"/><rect x="1567" y="688" width="32.9" height="38" fill="#df6e76"/><rect x="1606" y="688" width="9.7" height="38" fill="#df6e76"/><rect x="1617.8" y="688" width="2" height="38" fill="#df6e76"/><rect x="1621.8" y="688" width="22.2" height="38" fill="#df6e76"/><rect x="1669.6" y="688" width="2.1" height="38" fill="#f3f2f5"/><rect x="1682" y="688" width="4" height="38" fill="#f3f2f5"/><rect x="1688" y="688" width="55.4" height="38" fill="#f3f2f5"/><rect x="1747.3" y="688" width="6.4" height="38" fill="#f3f2f5"/><rect x="1756" y="688" width="2.8" height="38" fill="#f3f2f5"/><rect x="1760" y="688" width="12.8" height="38" fill="#fdfcfd"/><rect x="1784.3" y="688" width="2.6" height="38" fill="#f3f2f5"/><rect x="1813.7" y="688" width="2.5" height="38" fill="#f3f2f5"/><rect x="1820.8" y="688" width="2.1" height="38" fill="#df6e76"/><rect x="1828" y="688" width="2.8" height="38" fill="#df6e76"/><rect x="1839" y="688" width="2" height="38" fill="#f3f2f5"/><rect x="1841.8" y="688" width="16.6" height="38" fill="#f3f2f5"/><rect x="1859.7" y="688" width="1.5" height="38" fill="#f3f2f5"/><rect x="1878.8" y="688" width="3.9" height="38" fill="#f3f2f5"/><rect x="1894" y="688" width="2" height="38" fill="#df6e76"/><rect x="1900" y="688" width="1.6" height="38" fill="#df6e76"/><rect x="1907" y="688" width="13" height="38" fill="#df6e76"/><rect x="1921" y="688" width="1.5" height="38" fill="#df6e76"/><rect x="1925.6" y="688" width="94.2" height="38" fill="#f3f2f5"/><rect x="2039.7" y="688" width="1.3" height="38" fill="#f3f2f5"/><rect x="2044.8" y="688" width="1.8" height="38" fill="#f3f2f5"/><rect x="2053.8" y="688" width="3.8" height="38" fill="#f3f2f5"/><rect x="2060" y="688" width="28.6" height="38" fill="#f3f2f5"/><rect x="2090.8" y="688" width="1.8" height="38" fill="#f3f2f5"/><rect x="2117.6" y="688" width="9" height="38" fill="#fdfcfd"/><rect x="2128" y="688" width="11.7" height="38" fill="#f3f2f5"/><rect x="2142" y="688" width="5" height="38" fill="#f3f2f5"/><rect x="2148" y="688" width="1.7" height="38" fill="#df6e76"/><rect x="2323.5" y="688" width="2.1" height="38" fill="#f3f2f5"/><rect x="2327.4" y="688" width="1.5" height="38" fill="#f3f2f5"/><rect x="2338.5" y="688" width="1.1" height="38" fill="#f3f2f5"/><rect x="2346" y="688" width="1" height="38" fill="#f3f2f5"/><rect x="2348" y="688" width="1.5" height="38" fill="#f3f2f5"/><rect x="545.5" y="728" width="3.9" height="38" fill="#f3f2f5"/><rect x="552" y="728" width="3.8" height="38" fill="#f3f2f5"/><rect x="562" y="728" width="2.7" height="38" fill="#f3f2f5"/><rect x="567" y="728" width="4" height="38" fill="#f3f2f5"/><rect x="573" y="728" width="3.7" height="38" fill="#f7d9dc"/><rect x="579" y="728" width="36.8" height="38" fill="#f3f2f5"/><rect x="621" y="728" width="4.5" height="38" fill="#f3f2f5"/><rect x="636" y="728" width="1.7" height="38" fill="#df6e76"/><rect x="639" y="728" width="10.8" height="38" fill="#f3f2f5"/><rect x="652" y="728" width="8" height="38" fill="#f3f2f5"/><rect x="664.3" y="728" width="2.6" height="38" fill="#f3f2f5"/><rect x="688" y="728" width="41" height="38" fill="#f3f2f5"/><rect x="730.7" y="728" width="1.3" height="38" fill="#f7d9dc"/><rect x="742" y="728" width="4" height="38" fill="#f3f2f5"/><rect x="749" y="728" width="7.8" height="38" fill="#df6e76"/><rect x="763" y="728" width="4" height="38" fill="#df6e76"/><rect x="866" y="728" width="2" height="38" fill="#f3f2f5"/><rect x="869.4" y="728" width="11.6" height="38" fill="#f3f2f5"/><rect x="882.7" y="728" width="5.1" height="38" fill="#f3f2f5"/><rect x="890.4" y="728" width="3" height="38" fill="#f3f2f5"/><rect x="900.6" y="728" width="2.4" height="38" fill="#f3f2f5"/><rect x="909" y="728" width="1.8" height="38" fill="#df6e76"/><rect x="919.7" y="728" width="3.1" height="38" fill="#f3f2f5"/><rect x="931" y="728" width="2" height="38" fill="#f3f2f5"/><rect x="935" y="728" width="7.7" height="38" fill="#f3f2f5"/><rect x="944" y="728" width="1.8" height="38" fill="#f3f2f5"/><rect x="965.7" y="728" width="1.3" height="38" fill="#f3f2f5"/><rect x="969.5" y="728" width="29.5" height="38" fill="#f3f2f5"/><rect x="1009" y="728" width="2" height="38" fill="#f3f2f5"/><rect x="1019.8" y="728" width="1.6" height="38" fill="#f3f2f5"/><rect x="1186" y="728" width="7" height="38" fill="#f3f2f5"/><rect x="1199" y="728" width="2.7" height="38" fill="#f3f2f5"/><rect x="1212.4" y="728" width="2.6" height="38" fill="#f3f2f5"/><rect x="1216.2" y="728" width="5.1" height="38" fill="#f3f2f5"/><rect x="1226" y="728" width="119.7" height="38" fill="#f8f7f9"/><rect x="1347.8" y="728" width="10.7" height="38" fill="#df6e76"/><rect x="1360.5" y="728" width="2.5" height="38" fill="#df6e76"/><rect x="1376.4" y="728" width="2.6" height="38" fill="#f7d9dc"/><rect x="1383" y="728" width="3.6" height="38" fill="#f3f2f5"/><rect x="1396.3" y="728" width="1.3" height="38" fill="#f3f2f5"/><rect x="1400" y="728" width="2" height="38" fill="#f3f2f5"/><rect x="1602.4" y="728" width="1.3" height="38" fill="#f3f2f5"/><rect x="1621.8" y="728" width="22.2" height="38" fill="#df6e76"/><rect x="1682" y="728" width="4" height="38" fill="#f3f2f5"/><rect x="1688" y="728" width="55.4" height="38" fill="#f3f2f5"/><rect x="1747.3" y="728" width="6.4" height="38" fill="#fdfcfd"/><rect x="1756" y="728" width="9" height="38" fill="#f3f2f5"/><rect x="1777" y="728" width="4.8" height="38" fill="#f3f2f5"/><rect x="1784.3" y="728" width="2.6" height="38" fill="#f3f2f5"/><rect x="1813.7" y="728" width="2.5" height="38" fill="#fdfcfd"/><rect x="1822" y="728" width="2" height="38" fill="#f3f2f5"/><rect x="1828" y="728" width="2.8" height="38" fill="#f3f2f5"/><rect x="1841.8" y="728" width="16.6" height="38" fill="#f3f2f5"/><rect x="1878" y="728" width="4.7" height="38" fill="#f7d9dc"/><rect x="1895.4" y="728" width="2.6" height="38" fill="#f3f2f5"/><rect x="1900" y="728" width="1.6" height="38" fill="#f3f2f5"/><rect x="1903" y="728" width="2.6" height="38" fill="#f3f2f5"/><rect x="1907" y="728" width="13" height="38" fill="#f3f2f5"/><rect x="1921" y="728" width="1.8" height="38" fill="#df6e76"/><rect x="1929" y="728" width="90.8" height="38" fill="#f3f2f5"/><rect x="2024" y="728" width="13" height="38" fill="#f3f2f5"/><rect x="2039.7" y="728" width="1.3" height="38" fill="#f3f2f5"/><rect x="2044.8" y="728" width="1.8" height="38" fill="#f3f2f5"/><rect x="2053.8" y="728" width="3.8" height="38" fill="#f3f2f5"/><rect x="2060" y="728" width="28.6" height="38" fill="#f3f2f5"/><rect x="2090.8" y="728" width="1.8" height="38" fill="#f3f2f5"/><rect x="2099" y="728" width="1" height="38" fill="#f3f2f5"/><rect x="2114.5" y="728" width="1.3" height="38" fill="#f3f2f5"/><rect x="2130.4" y="728" width="9.3" height="38" fill="#f3f2f5"/><rect x="2142" y="728" width="5" height="38" fill="#f3f2f5"/><rect x="2148" y="728" width="1.7" height="38" fill="#df6e76"/><rect x="2323.5" y="728" width="2.1" height="38" fill="#f3f2f5"/><rect x="2341" y="728" width="3" height="38" fill="#f3f2f5"/><rect x="545.5" y="768" width="3.9" height="38" fill="#f3f2f5"/><rect x="552" y="768" width="3.8" height="38" fill="#f3f2f5"/><rect x="562" y="768" width="1.7" height="38" fill="#f7d9dc"/><rect x="567" y="768" width="4" height="38" fill="#f3f2f5"/><rect x="573" y="768" width="3.7" height="38" fill="#f3f2f5"/><rect x="579" y="768" width="36.8" height="38" fill="#f3f2f5"/><rect x="621" y="768" width="4.5" height="38" fill="#f3f2f5"/><rect x="632.4" y="768" width="3.3" height="38" fill="#f3f2f5"/><rect x="639" y="768" width="10.8" height="38" fill="#f7d9dc"/><rect x="652" y="768" width="8" height="38" fill="#f7d9dc"/><rect x="664.3" y="768" width="2.6" height="38" fill="#f3f2f5"/><rect x="688" y="768" width="41" height="38" fill="#f7d9dc"/><rect x="749" y="768" width="7.8" height="38" fill="#df6e76"/><rect x="763" y="768" width="4" height="38" fill="#df6e76"/><rect x="869.4" y="768" width="11.6" height="38" fill="#f3f2f5"/><rect x="890.4" y="768" width="3" height="38" fill="#f3f2f5"/><rect x="900.6" y="768" width="2.4" height="38" fill="#f3f2f5"/><rect x="909" y="768" width="1.8" height="38" fill="#df6e76"/><rect x="919.7" y="768" width="3.1" height="38" fill="#f3f2f5"/><rect x="935" y="768" width="7.7" height="38" fill="#f3f2f5"/><rect x="969.5" y="768" width="29.5" height="38" fill="#f3f2f5"/><rect x="1009" y="768" width="2" height="38" fill="#f3f2f5"/><rect x="1018.9" y="768" width="1.1" height="38" fill="#f3f2f5"/><rect x="1183" y="768" width="1" height="38" fill="#f7d9dc"/><rect x="1186" y="768" width="7" height="38" fill="#f3f2f5"/><rect x="1199" y="768" width="2.7" height="38" fill="#f3f2f5"/><rect x="1212.4" y="768" width="2.6" height="38" fill="#f3f2f5"/><rect x="1219.5" y="768" width="1.8" height="38" fill="#f3f2f5"/><rect x="1226" y="768" width="119.7" height="38" fill="#f3f2f5"/><rect x="1347.8" y="768" width="10.7" height="38" fill="#df6e76"/><rect x="1360.5" y="768" width="2.5" height="38" fill="#df6e76"/><rect x="1373.3" y="768" width="2.1" height="38" fill="#f3f2f5"/><rect x="1383" y="768" width="3.6" height="38" fill="#f3f2f5"/><rect x="1396.3" y="768" width="1.5" height="38" fill="#f7d9dc"/><rect x="1400" y="768" width="2" height="38" fill="#f3f2f5"/><rect x="1602.4" y="768" width="1.3" height="38" fill="#f3f2f5"/><rect x="1617.2" y="768" width="1.3" height="38" fill="#f3f2f5"/><rect x="1682" y="768" width="4" height="38" fill="#fdfcfd"/><rect x="1688" y="768" width="55.4" height="38" fill="#f3f2f5"/><rect x="1756" y="768" width="2.8" height="38" fill="#f3f2f5"/><rect x="1761.3" y="768" width="3.7" height="38" fill="#f3f2f5"/><rect x="1777" y="768" width="4.8" height="38" fill="#f3f2f5"/><rect x="1783" y="768" width="4.6" height="38" fill="#f3f2f5"/><rect x="1822" y="768" width="2" height="38" fill="#f3f2f5"/><rect x="1828" y="768" width="2.8" height="38" fill="#f3f2f5"/><rect x="1841.8" y="768" width="16.6" height="38" fill="#f3f2f5"/><rect x="1895" y="768" width="2" height="38" fill="#df6e76"/><rect x="1907" y="768" width="13" height="38" fill="#f3f2f5"/><rect x="1921" y="768" width="1.8" height="38" fill="#df6e76"/><rect x="1924.8" y="768" width="3.1" height="38" fill="#f7d9dc"/><rect x="1929" y="768" width="90.8" height="38" fill="#f3f2f5"/><rect x="2024" y="768" width="13" height="38" fill="#f3f2f5"/><rect x="2044.8" y="768" width="1.8" height="38" fill="#f3f2f5"/><rect x="2053.8" y="768" width="3.8" height="38" fill="#fdfcfd"/><rect x="2060" y="768" width="28.6" height="38" fill="#f3f2f5"/><rect x="2099" y="768" width="1" height="38" fill="#f3f2f5"/><rect x="2114.5" y="768" width="1.3" height="38" fill="#f3f2f5"/><rect x="2130.4" y="768" width="9.3" height="38" fill="#f3f2f5"/><rect x="2142" y="768" width="5" height="38" fill="#f3f2f5"/><rect x="2323.5" y="768" width="2.1" height="38" fill="#fdfcfd"/><rect x="2341" y="768" width="3" height="38" fill="#f3f2f5"/><rect x="545" y="808" width="4.9" height="38" fill="#f7d9dc"/><rect x="552" y="808" width="3.8" height="38" fill="#fdfcfd"/><rect x="567" y="808" width="4" height="38" fill="#f3f2f5"/><rect x="573" y="808" width="3.7" height="38" fill="#fdfcfd"/><rect x="579" y="808" width="36.8" height="38" fill="#f3f2f5"/><rect x="621" y="808" width="4.5" height="38" fill="#f3f2f5"/><rect x="632.4" y="808" width="3.3" height="38" fill="#f3f2f5"/><rect x="664.3" y="808" width="2.6" height="38" fill="#f3f2f5"/><rect x="742" y="808" width="4" height="38" fill="#f3f2f5"/><rect x="749" y="808" width="7.8" height="38" fill="#f3f2f5"/><rect x="759" y="808" width="1.6" height="38" fill="#f3f2f5"/><rect x="763" y="808" width="4" height="38" fill="#f3f2f5"/><rect x="869.4" y="808" width="11.6" height="38" fill="#f3f2f5"/><rect x="890.4" y="808" width="3" height="38" fill="#f3f2f5"/><rect x="900.6" y="808" width="2.4" height="38" fill="#f3f2f5"/><rect x="908.3" y="808" width="2" height="38" fill="#fdfcfd"/><rect x="919.7" y="808" width="3.1" height="38" fill="#fdfcfd"/><rect x="935" y="808" width="7.7" height="38" fill="#f3f2f5"/><rect x="969.5" y="808" width="29.5" height="38" fill="#f3f2f5"/><rect x="1009" y="808" width="2" height="38" fill="#f3f2f5"/><rect x="1018.9" y="808" width="1.1" height="38" fill="#f3f2f5"/><rect x="1186" y="808" width="7" height="38" fill="#f3f2f5"/><rect x="1199" y="808" width="2.7" height="38" fill="#f3f2f5"/><rect x="1212.4" y="808" width="2.6" height="38" fill="#f3f2f5"/><rect x="1219.5" y="808" width="1.8" height="38" fill="#f3f2f5"/><rect x="1226" y="808" width="119.7" height="38" fill="#f7d9dc"/><rect x="1347.8" y="808" width="10.7" height="38" fill="#df6e76"/><rect x="1360.5" y="808" width="2.5" height="38" fill="#df6e76"/><rect x="1373.3" y="808" width="2.1" height="38" fill="#f3f2f5"/><rect x="1383" y="808" width="3.6" height="38" fill="#f3f2f5"/><rect x="1400" y="808" width="2" height="38" fill="#f3f2f5"/><rect x="1602.4" y="808" width="1.3" height="38" fill="#f3f2f5"/><rect x="1617.2" y="808" width="1.3" height="38" fill="#f3f2f5"/><rect x="1688" y="808" width="55.4" height="38" fill="#f3f2f5"/><rect x="1761.3" y="808" width="3.7" height="38" fill="#f3f2f5"/><rect x="1777" y="808" width="4.8" height="38" fill="#f3f2f5"/><rect x="1784.3" y="808" width="2.6" height="38" fill="#f3f2f5"/><rect x="1821.4" y="808" width="1.5" height="38" fill="#f3f2f5"/><rect x="1828" y="808" width="2.8" height="38" fill="#f3f2f5"/><rect x="1841.8" y="808" width="16.6" height="38" fill="#f3f2f5"/><rect x="1895.4" y="808" width="2.6" height="38" fill="#f3f2f5"/><rect x="1900" y="808" width="1.6" height="38" fill="#f3f2f5"/><rect x="1905.6" y="808" width="2.1" height="38" fill="#f3f2f5"/><rect x="1909" y="808" width="11" height="38" fill="#f3f2f5"/><rect x="1921" y="808" width="1.8" height="38" fill="#f3f2f5"/><rect x="1924.8" y="808" width="2.6" height="38" fill="#f3f2f5"/><rect x="1929" y="808" width="90.8" height="38" fill="#f3f2f5"/><rect x="2024" y="808" width="13" height="38" fill="#f3f2f5"/><rect x="2044.8" y="808" width="1.8" height="38" fill="#f3f2f5"/><rect x="2060" y="808" width="28.6" height="38" fill="#f3f2f5"/><rect x="2099" y="808" width="1" height="38" fill="#f3f2f5"/><rect x="2114.5" y="808" width="1.3" height="38" fill="#f3f2f5"/><rect x="2130.4" y="808" width="9.3" height="38" fill="#f3f2f5"/><rect x="2142.6" y="808" width="4" height="38" fill="#fdfcfd"/><rect x="2341" y="808" width="3" height="38" fill="#f3f2f5"/><rect x="552" y="848" width="3.8" height="38" fill="#f3f2f5"/><rect x="567" y="848" width="4" height="38" fill="#f3f2f5"/><rect x="579" y="848" width="7.4" height="38" fill="#f3f2f5"/><rect x="588.2" y="848" width="5.8" height="38" fill="#f3f2f5"/><rect x="595.9" y="848" width="19.9" height="38" fill="#f3f2f5"/><rect x="621" y="848" width="4.5" height="38" fill="#f3f2f5"/><rect x="632.4" y="848" width="3.3" height="38" fill="#f3f2f5"/><rect x="664.3" y="848" width="2.6" height="38" fill="#f3f2f5"/><rect x="742" y="848" width="4" height="38" fill="#f3f2f5"/><rect x="749" y="848" width="7.8" height="38" fill="#f3f2f5"/><rect x="759" y="848" width="1.6" height="38" fill="#f3f2f5"/><rect x="763" y="848" width="4" height="38" fill="#f3f2f5"/><rect x="869.4" y="848" width="11.6" height="38" fill="#f3f2f5"/><rect x="890.4" y="848" width="3" height="38" fill="#f3f2f5"/><rect x="900.6" y="848" width="2.4" height="38" fill="#f3f2f5"/><rect x="909" y="848" width="1.8" height="38" fill="#df6e76"/><rect x="919.7" y="848" width="3.1" height="38" fill="#f3f2f5"/><rect x="935" y="848" width="7.7" height="38" fill="#f3f2f5"/><rect x="969.5" y="848" width="29.5" height="38" fill="#f3f2f5"/><rect x="1009" y="848" width="2" height="38" fill="#f3f2f5"/><rect x="1186" y="848" width="7" height="38" fill="#f3f2f5"/><rect x="1199" y="848" width="2.7" height="38" fill="#f3f2f5"/><rect x="1212.4" y="848" width="2.6" height="38" fill="#f3f2f5"/><rect x="1219.5" y="848" width="1.8" height="38" fill="#f3f2f5"/><rect x="1347.8" y="848" width="10.7" height="38" fill="#df6e76"/><rect x="1360.5" y="848" width="2.5" height="38" fill="#df6e76"/><rect x="1364.3" y="848" width="1.3" height="38" fill="#f3f2f5"/><rect x="1373.3" y="848" width="2.1" height="38" fill="#f3f2f5"/><rect x="1383" y="848" width="3.6" height="38" fill="#f3f2f5"/><rect x="1400" y="848" width="2" height="38" fill="#f3f2f5"/><rect x="1617.2" y="848" width="1.3" height="38" fill="#f3f2f5"/><rect x="1688" y="848" width="55.4" height="38" fill="#f3f2f5"/><rect x="1761.3" y="848" width="3.7" height="38" fill="#fdfcfd"/><rect x="1777" y="848" width="4.8" height="38" fill="#fdfcfd"/><rect x="1784.3" y="848" width="2.6" height="38" fill="#f3f2f5"/><rect x="1821.4" y="848" width="1.5" height="38" fill="#f3f2f5"/><rect x="1841.8" y="848" width="16.6" height="38" fill="#f3f2f5"/><rect x="1895.4" y="848" width="2.6" height="38" fill="#f3f2f5"/><rect x="1900" y="848" width="1.6" height="38" fill="#f3f2f5"/><rect x="1905.6" y="848" width="2.1" height="38" fill="#f3f2f5"/><rect x="1909" y="848" width="11" height="38" fill="#f3f2f5"/><rect x="1921" y="848" width="1.8" height="38" fill="#f3f2f5"/><rect x="1924.8" y="848" width="2.6" height="38" fill="#f3f2f5"/><rect x="1929" y="848" width="90.8" height="38" fill="#f3f2f5"/><rect x="2024" y="848" width="13" height="38" fill="#f3f2f5"/><rect x="2045.4" y="848" width="1.6" height="38" fill="#f7d9dc"/><rect x="2060" y="848" width="28.6" height="38" fill="#f3f2f5"/><rect x="2130.4" y="848" width="9.3" height="38" fill="#f3f2f5"/><rect x="2341" y="848" width="3" height="38" fill="#f3f2f5"/><rect x="552" y="888" width="3.8" height="38" fill="#f7d9dc"/><rect x="567" y="888" width="4" height="38" fill="#f3f2f5"/><rect x="579" y="888" width="4.9" height="38" fill="#f3f2f5"/><rect x="585" y="888" width="4.5" height="38" fill="#f3f2f5"/><rect x="591.5" y="888" width="2.5" height="38" fill="#f3f2f5"/><rect x="595.9" y="888" width="19.9" height="38" fill="#f3f2f5"/><rect x="618.3" y="888" width="1.7" height="38" fill="#f7d9dc"/><rect x="624.7" y="888" width="1.3" height="38" fill="#f3f2f5"/><rect x="633.7" y="888" width="2" height="38" fill="#f3f2f5"/><rect x="744.8" y="888" width="1.2" height="38" fill="#f3f2f5"/><rect x="749" y="888" width="7.8" height="38" fill="#f3f2f5"/><rect x="762.6" y="888" width="4.4" height="38" fill="#fdfcfd"/><rect x="869.4" y="888" width="2.6" height="38" fill="#f3f2f5"/><rect x="890.4" y="888" width="3" height="38" fill="#f3f2f5"/><rect x="900.6" y="888" width="2.4" height="38" fill="#f3f2f5"/><rect x="909" y="888" width="1.8" height="38" fill="#df6e76"/><rect x="919" y="888" width="3.8" height="38" fill="#f7d9dc"/><rect x="935" y="888" width="4.7" height="38" fill="#f3f2f5"/><rect x="969.5" y="888" width="18.5" height="38" fill="#f3f2f5"/><rect x="1009.6" y="888" width="1.4" height="38" fill="#f3f2f5"/><rect x="1185.6" y="888" width="2" height="38" fill="#f3f2f5"/><rect x="1347.8" y="888" width="10.7" height="38" fill="#df6e76"/><rect x="1363" y="888" width="1" height="38" fill="#f3f2f5"/><rect x="1382.3" y="888" width="1.2" height="38" fill="#f3f2f5"/><rect x="1617.2" y="888" width="1.3" height="38" fill="#f3f2f5"/><rect x="1688" y="888" width="30" height="38" fill="#f3f2f5"/><rect x="1784.3" y="888" width="1.9" height="38" fill="#f3f2f5"/><rect x="1841.8" y="888" width="6.1" height="38" fill="#f3f2f5"/><rect x="1895.4" y="888" width="1.3" height="38" fill="#f3f2f5"/><rect x="1900" y="888" width="1.6" height="38" fill="#f3f2f5"/><rect x="1909" y="888" width="11" height="38" fill="#f3f2f5"/><rect x="1929" y="888" width="20.8" height="38" fill="#f3f2f5"/><rect x="1952" y="888" width="9.8" height="38" fill="#f3f2f5"/><rect x="1963.9" y="888" width="4.8" height="38" fill="#f3f2f5"/><rect x="1970.8" y="888" width="49" height="38" fill="#f3f2f5"/><rect x="2024" y="888" width="13" height="38" fill="#f3f2f5"/><rect x="2060" y="888" width="18" height="38" fill="#f3f2f5"/><rect x="2131" y="888" width="3.7" height="38" fill="#f3f2f5"/><rect x="2341" y="888" width="3" height="38" fill="#f3f2f5"/>
<g font-size="22" fill="#1f1b38" stroke="#1f1b38" stroke-width="0.3"><text x="57.5" y="195.5">RateLimitMiddleware.__call__</text><text x="57.5" y="235.5">_gcd_…port</text><text x="215.5" y="235.5">DisallowedOrganizationMiddleware.__call__</text><text x="57.5" y="275.5">_find…load</text><text x="215.5" y="275.5">override</text><text x="2361.5" y="275.5">Ra…ew</text><text x="69.5" y="315.5">_Mo…r__</text><text x="181.5" y="315.5">…</text><text x="215.5" y="315.5">allow_cors_options_wrapper</text><text x="2361.5" y="315.5">ab…ck</text><text x="70.5" y="355.5">_…</text><text x="115.5" y="355.5">_…e</text><text x="215.5" y="355.5">ChunkUpload…nt.dispatch</text><text x="546.5" y="355.5">…</text><text x="580.5" y="355.5">O…</text><text x="632.5" y="355.5">…</text><text x="671.5" y="355.5">Or…h</text><text x="776.5" y="355.5">Org…ch</text><text x="874.5" y="355.5">…</text><text x="907.5" y="355.5">…</text><text x="938.5" y="355.5">…</text><text x="967.5" y="355.5">Organiz…ispatch</text><text x="1224.5" y="355.5">Orga…atch</text><text x="1407.5" y="355.5">Organizat….dispatch</text><text x="1676.5" y="355.5">Organ…patch</text><text x="1849.3" y="355.5">P…</text><text x="1901.5" y="355.5">Proje…atch</text><text x="2056.5" y="355.5">Promotion….dispatch</text><text x="2361.5" y="355.5">Co…st</text><text x="215.5" y="395.5">ChunkUploadEndpoint.get</text><text x="546.5" y="395.5">…</text><text x="1404.2" y="395.5">Organizati…oint.get</text><text x="1676.5" y="395.5">Orga…rgs</text><text x="1805.5" y="395.5">…</text><text x="1901.5" y="395.5">Proj…get</text><text x="2056.5" y="395.5">O…s</text><text x="2117.5" y="395.5">Promoti…nt.post</text><text x="2361.5" y="395.5">ca…pt</text><text x="1405.5" y="435.5">Organiza…serialize</text><text x="1685.3" y="435.5">Org…ion</text><text x="1812.2" y="435.5">…</text><text x="1901.5" y="435.5">seri…ize</text><text x="2058.5" y="435.5">O…</text><text x="2122.5" y="435.5">Subscri…otions</text><text x="1685.3" y="475.5">Sen…ess</text><text x="1812.2" y="475.5">…</text><text x="1901.5" y="475.5">seri…ize</text><text x="2058.5" y="475.5">S…</text><text x="2122.5" y="475.5">&lt;lambda&gt;</text><text x="1685.3" y="515.5">Dat…id</text><text x="1905.5" y="515.5">Deta…trs</text><text x="2058.5" y="515.5">D…</text><text x="2124.5" y="515.5">Promoti…igible</text><text x="580.5" y="555.5">S…</text><text x="695.5" y="555.5">r…</text><text x="775.5" y="555.5">D…d</text><text x="973.2" y="555.5">…</text><text x="1051.5" y="555.5">_app…ults</text><text x="1233.5" y="555.5">Metr…uery</text><text x="1405.1" y="555.5">D…d</text><text x="1498.3" y="555.5">BaseT…attrs</text><text x="1685.3" y="555.5">Da…id</text><text x="1933.1" y="555.5">ser…ze</text><text x="2058.5" y="555.5">…</text><text x="2126.5" y="555.5">Feature…er.has</text><text x="580.5" y="595.5">S…</text><text x="695.5" y="595.5">T…</text><text x="777.5" y="595.5">s…</text><text x="973.2" y="595.5">…</text><text x="1051.5" y="595.5">_bul…uery</text><text x="1233.5" y="595.5">run_…uery</text><text x="1408.5" y="595.5">s…</text><text x="1524.5" y="595.5">…</text><text x="1574.5" y="595.5">se…ze</text><text x="1689.5" y="595.5">se…er</text><text x="1933.1" y="595.5">&lt;li…p&gt;</text><text x="2062.5" y="595.5">…</text><text x="2126.5" y="595.5">FlagrFe…er.has</text><text x="580.5" y="635.5">D…</text><text x="695.5" y="635.5">b…</text><text x="973.2" y="635.5">…</text><text x="1051.5" y="635.5">_snq…uery</text><text x="1233.5" y="635.5">get_…ries</text><text x="1524.5" y="635.5">…</text><text x="1574.5" y="635.5">Pr…rs</text><text x="1688.4" y="635.5">_…r</text><text x="1933.1" y="635.5">Ser…__</text><text x="2062.5" y="635.5">…</text><text x="2126.5" y="635.5">FlagrFe…ch_has</text><text x="580.5" y="675.5">D…</text><text x="695.5" y="675.5">_…</text><text x="977" y="675.5">…</text><text x="1051.5" y="675.5">_raw…uery</text><text x="1233.5" y="675.5">raw…ery</text><text x="1574.5" y="675.5">…</text><text x="1613.5" y="675.5">g…</text><text x="1693.5" y="675.5">O…s</text><text x="1933.1" y="675.5">Ser…ze</text><text x="2066.1" y="675.5">…</text><text x="586.5" y="715.5">…</text><text x="695.5" y="715.5">_…</text><text x="977" y="715.5">…</text><text x="1233.5" y="715.5">_ap…lts</text><text x="1574.5" y="715.5">…</text><text x="1695.5" y="715.5">F…s</text><text x="1933.1" y="715.5">Org…ze</text><text x="2067.5" y="715.5">…</text><text x="586.5" y="755.5">…</text><text x="695.5" y="755.5">_…</text><text x="977" y="755.5">…</text><text x="1233.5" y="755.5">_bu…ery</text><text x="1695.5" y="755.5">R…r</text><text x="1936.5" y="755.5">Fe…as</text><text x="2067.5" y="755.5">…</text><text x="586.5" y="795.5">…</text><text x="695.5" y="795.5">_…</text><text x="977" y="795.5">…</text><text x="1233.5" y="795.5">_sn…ery</text><text x="1695.5" y="795.5">F…_</text><text x="1936.5" y="795.5">Re…er</text><text x="2067.5" y="795.5">…</text><text x="586.5" y="835.5">…</text><text x="977" y="835.5">…</text><text x="1233.5" y="835.5">_ra…ery</text><text x="1695.5" y="835.5">B…s</text><text x="1936.5" y="835.5">Fe…__</text><text x="2067.5" y="835.5">…</text><text x="977" y="875.5">…</text><text x="1695.5" y="875.5">S…h</text><text x="1936.5" y="875.5">Ba…as</text><text x="2067.5" y="875.5">…</text><text x="1978.3" y="915.5">S…</text></g>
</svg>
<div style="position:absolute;left:581px;top:365.5px;width:1059px;height:155px;box-sizing:border-box;border:2px solid #e0dce5;border-radius:9px;background:#fff;box-shadow:0 2px 4px rgba(43,34,51,.05)"></div><div style="position:absolute;left:599.5px;top:383px;width:24px;height:24px;border-radius:4px;background:#df6e76"></div><div style="position:absolute;left:639px;top:384.50px;font:24px/24px 'Liberation Mono', monospace;color:#2b2233;white-space:pre;-webkit-text-stroke:0.45px #2b2233">611.00 samples, new function (3%) OrganizationTeamsEndpoint.dispatch</div><div style="position:absolute;left:599.5px;top:433.00px;font:24px/24px 'Liberation Mono', monospace;color:#80708f;white-space:pre;-webkit-text-stroke:0.45px #80708f">source:sentry/api/base.py:338</div><div style="position:absolute;left:599.5px;top:481.00px;font:24px/24px 'Liberation Mono', monospace;color:#80708f;white-space:pre;-webkit-text-stroke:0.45px #80708f">application frame</div>
<div style="position:absolute;left:24px;top:915px;width:2414px;height:46px;background:#faf9fb"></div>
<div class="hl" style="top:913px"></div>
<div class="hl" style="top:961px"></div>
<div style="position:absolute;left:40.5px;top:927.68px;font:22px/22px 'Liberation Sans', sans-serif;color:#80708f;white-space:pre;letter-spacing:0.548px;">Flamegraph is showing how the stack population has changed.</div>
<div style="position:absolute;left:2262px;top:929.18px;font:22px/22px 'Liberation Sans', sans-serif;color:#80708f;white-space:pre;letter-spacing:0.000px;">+</div>
<div style="position:absolute;left:2283px;top:924px;width:120px;height:28px;background:linear-gradient(90deg,#df6e76 0%,#e58a91 14%,#e9b4b9 32%,#e4d3d9 44%,#dedce6 50%,#c9cdea 58%,#a9b4ea 68%,#9a94dc 80%,#7465d3 100%)"></div>
<div style="position:absolute;left:2412px;top:926.88px;font:22px/22px 'Liberation Sans', sans-serif;color:#80708f;white-space:pre;letter-spacing:0.000px;transform:scaleX(1.4);transform-origin:left center;">-</div>
<div style="position:absolute;left:39.5px;top:985.00px;font:bold 28px/28px 'Liberation Sans', sans-serif;color:#3e3446;white-space:pre;letter-spacing:0.417px;">Largest Increase</div><div style="position:absolute;left:40px;top:1022.68px;font:24px/24px 'Liberation Sans', sans-serif;color:#80708f;white-space:pre;letter-spacing:0.797px;">after regression</div><div class="btn" style="left:1113px;top:990px;width:102px;height:52px"></div><div style="position:absolute;left:1163px;top:992px;width:2px;height:48px;background:#e0dce5"></div><svg style="left:1113px;top:990px" width="102" height="52" viewBox="0 0 102 52"><polyline points="30.6,16.8 20.4,26.0 30.6,35.2" fill="none" stroke="#a79fb3" stroke-width="2.2" stroke-linecap="round" stroke-linejoin="round"/><polyline points="70.9,16.8 81.1,26.0 70.9,35.2" fill="none" stroke="#3e3446" stroke-width="2.2" stroke-linecap="round" stroke-linejoin="round"/></svg><div style="position:absolute;left:40px;top:1066.30px;font:28px/28px 'Liberation Sans', sans-serif;color:#2562d4;white-space:pre;letter-spacing:0.914px;">_ModuleLock.acquire</div><div style="position:absolute;left:40px;top:1105.00px;font:28px/28px 'Liberation Sans', sans-serif;color:#80708f;white-space:pre;letter-spacing:1.402px;">importlib._bootstrap</div><div style="position:absolute;right:1241.62px;top:1066.30px;font:28px/28px 'Liberation Sans', sans-serif;color:#3e3446;white-space:pre;letter-spacing:0.379px;">+20.06%</div><div style="position:absolute;right:1242.04px;top:1103.68px;font:24px/24px 'Liberation Sans', sans-serif;color:#80708f;white-space:pre;letter-spacing:-0.040px;">11k samples</div><div style="position:absolute;left:40px;top:1162.30px;font:28px/28px 'Liberation Sans', sans-serif;color:#2562d4;white-space:pre;letter-spacing:0.914px;">_ModuleLock.acquire</div><div style="position:absolute;left:40px;top:1201.00px;font:28px/28px 'Liberation Sans', sans-serif;color:#80708f;white-space:pre;letter-spacing:1.402px;">importlib._bootstrap</div><div style="position:absolute;right:1241.62px;top:1162.30px;font:28px/28px 'Liberation Sans', sans-serif;color:#3e3446;white-space:pre;letter-spacing:0.379px;">+20.06%</div><div style="position:absolute;right:1241.25px;top:1199.68px;font:24px/24px 'Liberation Sans', sans-serif;color:#80708f;white-space:pre;letter-spacing:0.749px;">438 samples</div><div style="position:absolute;left:40px;top:1258.30px;font:28px/28px 'Liberation Sans', sans-serif;color:#2562d4;white-space:pre;letter-spacing:1.287px;">execute</div><div style="position:absolute;left:40px;top:1297.00px;font:28px/28px 'Liberation Sans', sans-serif;color:#80708f;white-space:pre;letter-spacing:0.964px;">sentry.utils.services</div><div style="position:absolute;right:1241.50px;top:1258.30px;font:28px/28px 'Liberation Sans', sans-serif;color:#3e3446;white-space:pre;letter-spacing:0.498px;">+30%</div><div style="position:absolute;right:1242.14px;top:1295.68px;font:24px/24px 'Liberation Sans', sans-serif;color:#80708f;white-space:pre;letter-spacing:-0.144px;">11 samples</div><div style="position:absolute;left:40px;top:1354.30px;font:28px/28px 'Liberation Sans', sans-serif;color:#2562d4;white-space:pre;letter-spacing:1.987px;">_raw_snql_query</div><div style="position:absolute;left:40px;top:1393.00px;font:28px/28px 'Liberation Sans', sans-serif;color:#80708f;white-space:pre;letter-spacing:1.008px;">sentry.utils.snuba</div><div style="position:absolute;right:1242.57px;top:1354.30px;font:28px/28px 'Liberation Sans', sans-serif;color:#3e3446;white-space:pre;letter-spacing:-0.568px;">+112.02%</div><div style="position:absolute;right:1241.88px;top:1391.68px;font:24px/24px 'Liberation Sans', sans-serif;color:#80708f;white-space:pre;letter-spacing:0.118px;">41 samples</div><div style="position:absolute;left:40px;top:1450.30px;font:28px/28px 'Liberation Sans', sans-serif;color:#2562d4;white-space:pre;letter-spacing:1.987px;">_raw_snql_query</div><div style="position:absolute;left:40px;top:1489.00px;font:28px/28px 'Liberation Sans', sans-serif;color:#80708f;white-space:pre;letter-spacing:1.008px;">sentry.utils.snuba</div><div style="position:absolute;right:1242.57px;top:1450.30px;font:28px/28px 'Liberation Sans', sans-serif;color:#3e3446;white-space:pre;letter-spacing:-0.568px;">+112.02%</div><div style="position:absolute;right:1241.83px;top:1487.68px;font:24px/24px 'Liberation Sans', sans-serif;color:#80708f;white-space:pre;letter-spacing:0.168px;">14 samples</div>
<div style="position:absolute;left:1247.0px;top:985.00px;font:bold 28px/28px 'Liberation Sans', sans-serif;color:#3e3446;white-space:pre;letter-spacing:0.438px;">Largest Decrease</div><div style="position:absolute;left:1247.5px;top:1022.68px;font:24px/24px 'Liberation Sans', sans-serif;color:#80708f;white-space:pre;letter-spacing:0.797px;">after regression</div><div class="btn" style="left:2320px;top:990px;width:102px;height:52px"></div><div style="position:absolute;left:2370px;top:992px;width:2px;height:48px;background:#e0dce5"></div><svg style="left:2320px;top:990px" width="102" height="52" viewBox="0 0 102 52"><polyline points="30.6,16.8 20.4,26.0 30.6,35.2" fill="none" stroke="#a79fb3" stroke-width="2.2" stroke-linecap="round" stroke-linejoin="round"/><polyline points="70.9,16.8 81.1,26.0 70.9,35.2" fill="none" stroke="#3e3446" stroke-width="2.2" stroke-linecap="round" stroke-linejoin="round"/></svg><div style="position:absolute;left:1247.5px;top:1066.30px;font:28px/28px 'Liberation Sans', sans-serif;color:#2562d4;white-space:pre;letter-spacing:2.479px;">_path_stat</div><div style="position:absolute;left:1247.5px;top:1105.00px;font:28px/28px 'Liberation Sans', sans-serif;color:#80708f;white-space:pre;letter-spacing:1.373px;">importlib._bootstrap_external</div><div style="position:absolute;right:35.42px;top:1066.30px;font:28px/28px 'Liberation Sans', sans-serif;color:#3e3446;white-space:pre;letter-spacing:-0.416px;">-60.71%</div><div style="position:absolute;right:34.76px;top:1103.68px;font:24px/24px 'Liberation Sans', sans-serif;color:#80708f;white-space:pre;letter-spacing:0.236px;">7 samples</div><div style="position:absolute;left:1247.5px;top:1162.30px;font:28px/28px 'Liberation Sans', sans-serif;color:#2562d4;white-space:pre;letter-spacing:0.868px;">FileLoader.get_data</div><div style="position:absolute;left:1247.5px;top:1201.00px;font:28px/28px 'Liberation Sans', sans-serif;color:#80708f;white-space:pre;letter-spacing:1.373px;">importlib._bootstrap_external</div><div style="position:absolute;right:35.54px;top:1162.30px;font:28px/28px 'Liberation Sans', sans-serif;color:#3e3446;white-space:pre;letter-spacing:-0.539px;">-30.1%</div><div style="position:absolute;right:34.58px;top:1199.68px;font:24px/24px 'Liberation Sans', sans-serif;color:#80708f;white-space:pre;letter-spacing:0.425px;">6 samples</div><div style="position:absolute;left:1247.5px;top:1258.30px;font:28px/28px 'Liberation Sans', sans-serif;color:#2562d4;white-space:pre;letter-spacing:2.064px;">_write_atomic</div><div style="position:absolute;left:1247.5px;top:1297.00px;font:28px/28px 'Liberation Sans', sans-serif;color:#80708f;white-space:pre;letter-spacing:1.373px;">importlib._bootstrap_external</div><div style="position:absolute;right:34.10px;top:1258.30px;font:28px/28px 'Liberation Sans', sans-serif;color:#3e3446;white-space:pre;letter-spacing:0.898px;">-44.83%</div><div style="position:absolute;right:34.76px;top:1295.68px;font:24px/24px 'Liberation Sans', sans-serif;color:#80708f;white-space:pre;letter-spacing:0.236px;">7 samples</div><div style="position:absolute;left:1247.5px;top:1354.30px;font:28px/28px 'Liberation Sans', sans-serif;color:#2562d4;white-space:pre;letter-spacing:0.773px;">SourceFileLoader.set_data</div><div style="position:absolute;left:1247.5px;top:1393.00px;font:28px/28px 'Liberation Sans', sans-serif;color:#80708f;white-space:pre;letter-spacing:1.373px;">importlib._bootstrap_external</div><div style="position:absolute;right:34.87px;top:1354.30px;font:28px/28px 'Liberation Sans', sans-serif;color:#3e3446;white-space:pre;letter-spacing:0.129px;">-100%</div><div style="position:absolute;right:34.51px;top:1391.68px;font:24px/24px 'Liberation Sans', sans-serif;color:#80708f;white-space:pre;letter-spacing:0.492px;">0 samples</div><div style="position:absolute;left:1247.5px;top:1450.30px;font:28px/28px 'Liberation Sans', sans-serif;color:#2562d4;white-space:pre;letter-spacing:2.479px;">_path_stat</div><div style="position:absolute;left:1247.5px;top:1489.00px;font:28px/28px 'Liberation Sans', sans-serif;color:#80708f;white-space:pre;letter-spacing:1.373px;">importlib._bootstrap_external</div><div style="position:absolute;right:35.42px;top:1450.30px;font:28px/28px 'Liberation Sans', sans-serif;color:#3e3446;white-space:pre;letter-spacing:-0.416px;">-60.71%</div><div style="position:absolute;right:34.95px;top:1487.68px;font:24px/24px 'Liberation Sans', sans-serif;color:#80708f;white-space:pre;letter-spacing:0.048px;">15 samples</div>
</body></html>
